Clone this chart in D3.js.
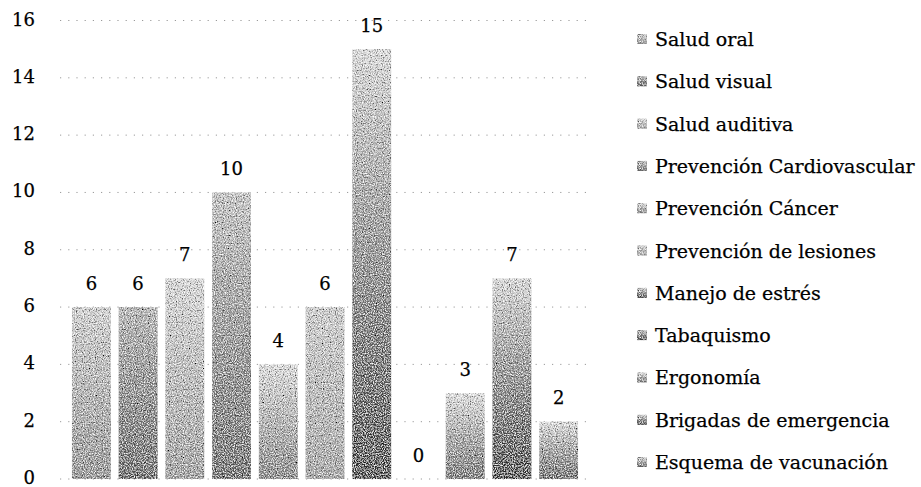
<!DOCTYPE html>
<html>
<head>
<meta charset="utf-8">
<script src="https://cdn.jsdelivr.net/npm/d3@7"></script>
<style>
  html, body { margin: 0; padding: 0; background: #fff; }
  svg { display: block; }
  text { font-family: "DejaVu Serif", "Liberation Serif", serif; fill: #000; stroke: #000; stroke-width: 0.25px; }
</style>
</head>
<body>
<svg id="chart" width="921" height="487"></svg>
<script>
const categories = ["Salud oral", "Salud visual", "Salud auditiva", "Prevención Cardiovascular",
  "Prevención Cáncer", "Prevención de lesiones", "Manejo de estrés", "Tabaquismo",
  "Ergonomía", "Brigadas de emergencia", "Esquema de vacunación"];
const values = [6, 6, 7, 10, 4, 6, 15, 0, 3, 7, 2];
const yTicks = [0, 2, 4, 6, 8, 10, 12, 14, 16];
const topShades = ["#d6d6d6", "#b4b4b4", "#dedede", "#c6c6c6", "#e4e4e4", "#d2d2d2", "#e0e0e0", "#cccccc", "#e6e6e6", "#dedede", "#e2e2e2"];
const bottomShades = ["#8c8c8c", "#555555", "#9c9c9c", "#5c5c5c", "#7c7c7c", "#a2a2a2", "#2c2c2c", "#333333", "#666666", "#2c2c2c", "#5a5a5a"];

const svg = d3.select("#chart");
const defs = svg.append("defs");

categories.forEach((c, i) => {
  const g = defs.append("linearGradient").attr("id", "g" + i)
    .attr("x1", 0).attr("y1", 0).attr("x2", 0).attr("y2", 1);
  g.append("stop").attr("offset", "0%").attr("stop-color", topShades[i]);
  g.append("stop").attr("offset", "100%").attr("stop-color", bottomShades[i]);
});

// grain filter to imitate dithering
const f = defs.append("filter").attr("id", "grain").attr("x", 0).attr("y", 0).attr("width", 1).attr("height", 1);
f.append("feTurbulence").attr("type", "fractalNoise").attr("baseFrequency", 0.9).attr("numOctaves", 1).attr("seed", 3).attr("result", "n");
f.append("feColorMatrix").attr("in", "n").attr("type", "matrix")
  .attr("values", "0 0 0 0 1  0 0 0 0 1  0 0 0 0 1  0 0 0 -3 1.75").attr("result", "w");
f.append("feComposite").attr("in", "w").attr("in2", "SourceGraphic").attr("operator", "in").attr("result", "wi");
f.append("feTurbulence").attr("type", "fractalNoise").attr("baseFrequency", 0.85).attr("numOctaves", 1).attr("seed", 11).attr("result", "n2");
f.append("feColorMatrix").attr("in", "n2").attr("type", "matrix")
  .attr("values", "0 0 0 0 0  0 0 0 0 0  0 0 0 0 0  0 0 0 -3 1.6").attr("result", "b");
f.append("feComposite").attr("in", "b").attr("in2", "SourceGraphic").attr("operator", "in").attr("result", "bi");
const m = f.append("feMerge");
m.append("feMergeNode").attr("in", "SourceGraphic");
m.append("feMergeNode").attr("in", "wi");
m.append("feMergeNode").attr("in", "bi");

const x = d3.scaleBand().domain(categories).range([68, 582]).paddingInner(0.17).paddingOuter(0.085);
const y = d3.scaleLinear().domain([0, 16]).range([479, 20.5]);

// gridlines
svg.append("g").selectAll("line").data(yTicks).join("line")
  .attr("x1", 60).attr("x2", 590)
  .attr("y1", d => y(d)).attr("y2", d => y(d))
  .attr("stroke", "#9a9a9a").attr("stroke-width", 1)
  .attr("stroke-dasharray", "1.2,7");

// y axis labels
const yAxis = d3.axisLeft(y).tickValues(yTicks).tickSize(0).tickPadding(0);
const ya = svg.append("g").attr("transform", "translate(35,0)").call(yAxis);
ya.select(".domain").remove();
ya.selectAll("text")
  .attr("font-family", "DejaVu Serif, serif").attr("font-size", 18).attr("fill", "#000")
  .attr("dy", null).attr("dominant-baseline", "central")
  .attr("y", -2);

// bars
svg.append("g").selectAll("rect").data(categories).join("rect")
  .attr("x", d => x(d))
  .attr("width", x.bandwidth())
  .attr("y", (d, i) => y(values[i]))
  .attr("height", (d, i) => y(0) - y(values[i]))
  .attr("fill", (d, i) => `url(#g${i})`)
  .attr("filter", "url(#grain)");

// value labels
svg.append("g").selectAll("text").data(categories).join("text")
  .attr("x", d => x(d) + x.bandwidth() / 2)
  .attr("y", (d, i) => y(values[i]) - 24)
  .attr("text-anchor", "middle")
  .attr("dominant-baseline", "central")
  .attr("font-size", 18)
  .text((d, i) => values[i]);

// legend
const lg = svg.append("g").selectAll("g").data(categories).join("g")
  .attr("transform", (d, i) => `translate(637, ${39 + i * 42.3})`);
lg.append("rect").attr("x", 0).attr("y", -5).attr("width", 10).attr("height", 10)
  .attr("fill", (d, i) => `url(#g${i})`).attr("filter", "url(#grain)");
lg.append("text").attr("x", 18).attr("y", 0)
  .attr("dominant-baseline", "central")
  .attr("font-size", 19)
  .text(d => d);
</script>
</body>
</html>
